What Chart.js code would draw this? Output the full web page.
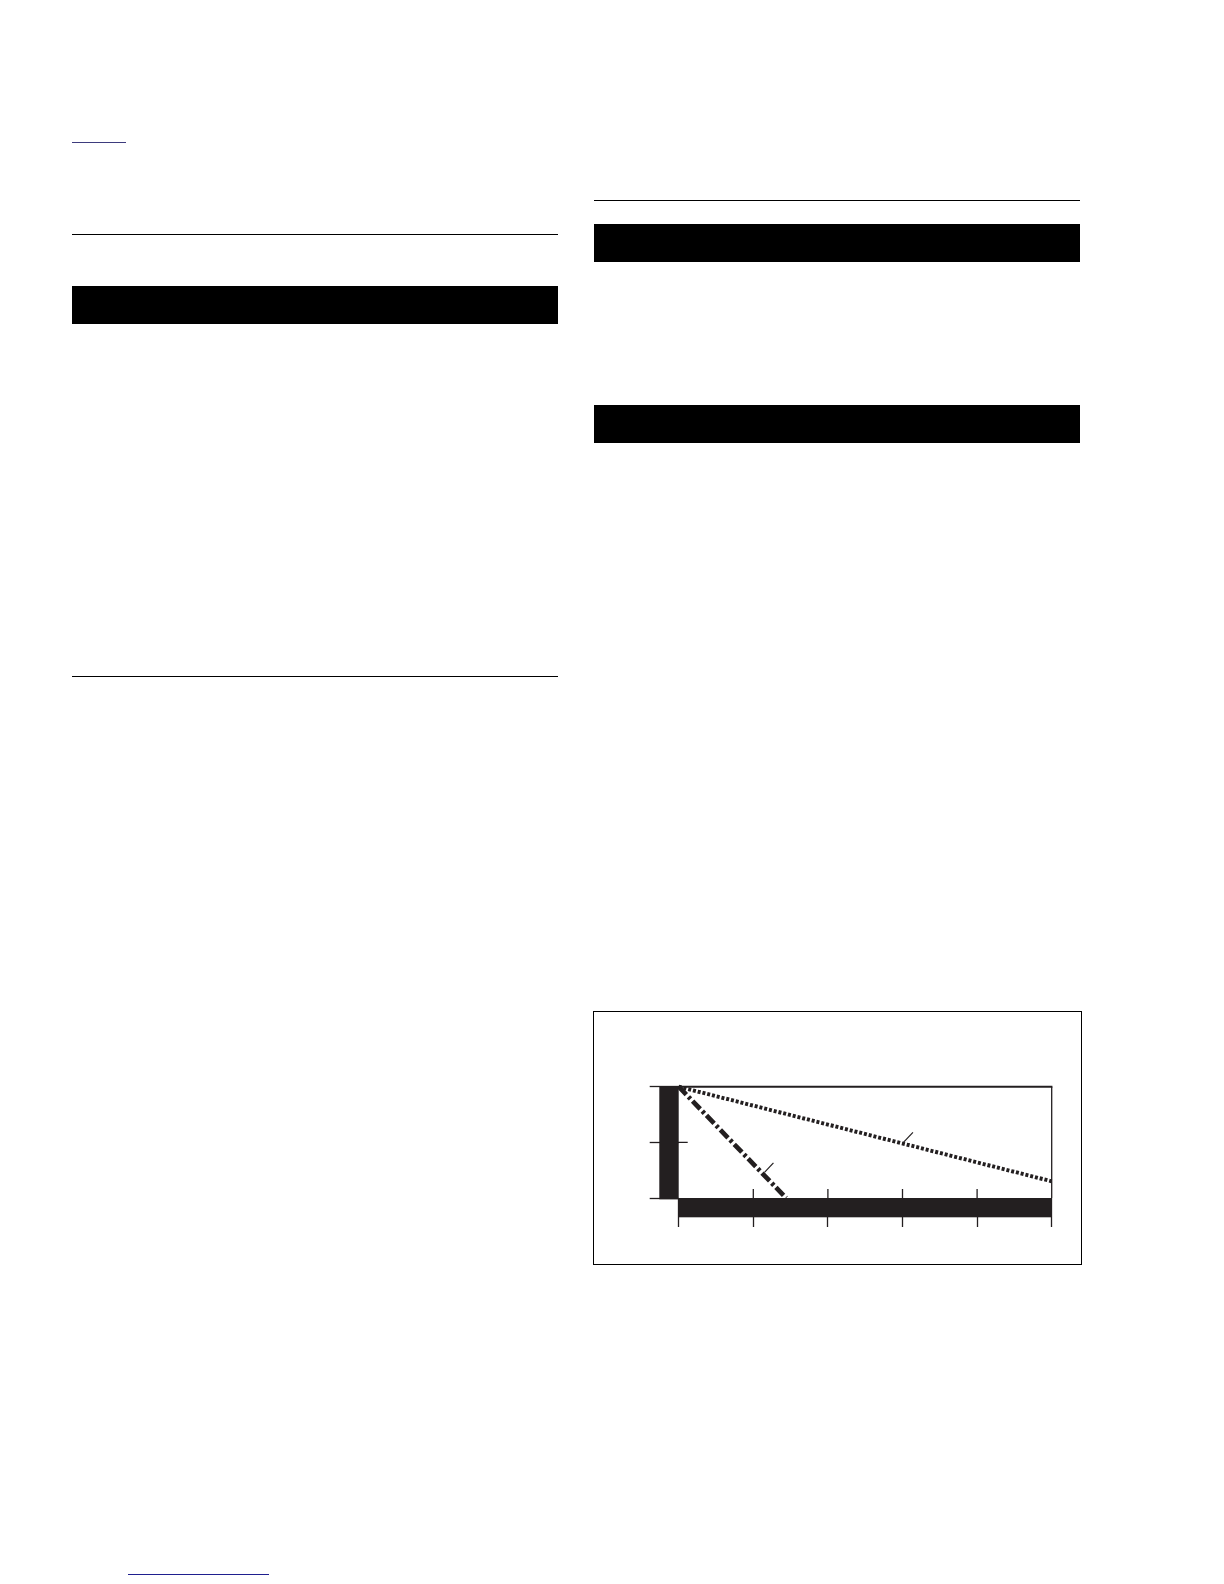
<!DOCTYPE html>
<html>
<head>
<meta charset="utf-8">
<title>Chart</title>
<script src="https://cdn.jsdelivr.net/npm/chart.js@4"></script>
<style>
    html, body { margin: 0; padding: 0; background: #fff; }
    body { width: 1224px; height: 1584px; position: relative; overflow: hidden; }
    .rule { position: absolute; height: 1.3px; background: #000; }
    .band { position: absolute; background: #000; }
    .link { position: absolute; height: 1.4px; }
    #chartBox { position: absolute; left: 593px; top: 1011px; width: 489px; height: 254px; border: 1.3px solid #000; box-sizing: border-box; }
    #chart { position: absolute; left: 593px; top: 1011px; }
</style>
</head>
<body>
<div class="link" style="left:72px; top:142px; width:54px; background:#3d3b7d;"></div>

<div class="rule" style="left:72px; top:234px; width:486px;"></div>
<div class="band" style="left:72px; top:286px; width:486px; height:38px;"></div>
<div class="rule" style="left:72px; top:676px; width:486px;"></div>

<div class="rule" style="left:594px; top:200px; width:486px;"></div>
<div class="band" style="left:594px; top:224px; width:486px; height:38px;"></div>
<div class="band" style="left:594px; top:405px; width:486px; height:38px;"></div>

<div id="chartBox"></div>
<canvas id="chart" width="489" height="254" style="width:489px;height:254px;"></canvas>

<div class="link" style="left:128px; top:1574px; width:141px; background:#1f1f8f;"></div>

<script>
// axis ranges and tick values
const xTicks = [0, 1, 2, 3, 4, 5];
const yTicks = [0, 1, 2];

// dotted curve
const dottedX = [0, 5];
const dottedY = [2, 0.3];

// dash-dot curve
const dashDotX = [0, 1.44];
const dashDotY = [2, 0];

// small pointer marks next to each curve
const dottedMarkX = [3, 3.14];
const dottedMarkY = [0.98, 1.18];
const dashDotMarkX = [1.15, 1.27];
const dashDotMarkY = [0.46, 0.63];

const ink = '#231f20';

function points(xs, ys) {
    return xs.map((x, i) => ({ x: x, y: ys[i] }));
}

// dark axis bands, plot frame and the short inner ticks
const frame = {
    id: 'frame',
    afterDatasetsDraw(chart) {
        const ctx = chart.ctx;
        const a = chart.chartArea;
        const xs = chart.scales.x;
        const ys = chart.scales.y;
        ctx.save();
        ctx.fillStyle = ink;
        ctx.fillRect(a.left - 19.4, a.top, 19.4, a.bottom - a.top + 1.3);
        ctx.fillRect(a.left, a.bottom, a.right - a.left, 19.3);

        ctx.strokeStyle = ink;
        ctx.lineWidth = 2;
        ctx.beginPath();
        ctx.moveTo(a.left, a.top);
        ctx.lineTo(a.right + 0.7, a.top);
        ctx.stroke();

        ctx.lineWidth = 1.3;
        ctx.beginPath();
        ctx.moveTo(a.right, a.top);
        ctx.lineTo(a.right, a.bottom);
        xTicks.slice(1, -1).forEach(v => {
            const px = xs.getPixelForValue(v);
            ctx.moveTo(px, a.bottom - 9);
            ctx.lineTo(px, a.bottom);
        });
        yTicks.slice(1, -1).forEach(v => {
            const py = ys.getPixelForValue(v);
            ctx.moveTo(a.left, py);
            ctx.lineTo(a.left + 9, py);
        });
        ctx.stroke();
        ctx.restore();
    }
};

new Chart(document.getElementById('chart'), {
    type: 'line',
    data: {
        datasets: [{
            data: points(dottedX, dottedY),
            borderColor: ink,
            borderWidth: 3.9,
            borderDash: [3, 1.9],
            pointRadius: 0,
            clip: false
        }, {
            data: points(dashDotX, dashDotY),
            borderColor: ink,
            borderWidth: 4.7,
            borderDash: [11, 3, 3, 3],
            pointRadius: 0,
            clip: false
        }, {
            data: points(dottedMarkX, dottedMarkY),
            borderColor: ink,
            borderWidth: 1.2,
            pointRadius: 0,
            clip: false
        }, {
            data: points(dashDotMarkX, dashDotMarkY),
            borderColor: ink,
            borderWidth: 1.2,
            pointRadius: 0,
            clip: false
        }]
    },
    options: {
        responsive: false,
        animation: false,
        layout: {
            padding: { left: 55.7, top: 75.7, right: 30.3, bottom: 37 }
        },
        plugins: {
            legend: { display: false },
            tooltip: { enabled: false }
        },
        scales: {
            x: {
                type: 'linear',
                min: xTicks[0],
                max: xTicks[xTicks.length - 1],
                afterBuildTicks: s => { s.ticks = xTicks.map(v => ({ value: v })); },
                afterFit: s => { s.height = 30; },
                ticks: { display: false },
                border: { display: false },
                grid: { drawOnChartArea: false, tickLength: 29, tickWidth: 1.3, tickColor: ink }
            },
            y: {
                type: 'linear',
                min: yTicks[0],
                max: yTicks[yTicks.length - 1],
                afterBuildTicks: s => { s.ticks = yTicks.map(v => ({ value: v })); },
                afterFit: s => { s.width = 30; },
                ticks: { display: false },
                border: { display: false },
                grid: { drawOnChartArea: false, tickLength: 29, tickWidth: 1.3, tickColor: ink }
            }
        }
    },
    plugins: [frame]
});
</script>
</body>
</html>
